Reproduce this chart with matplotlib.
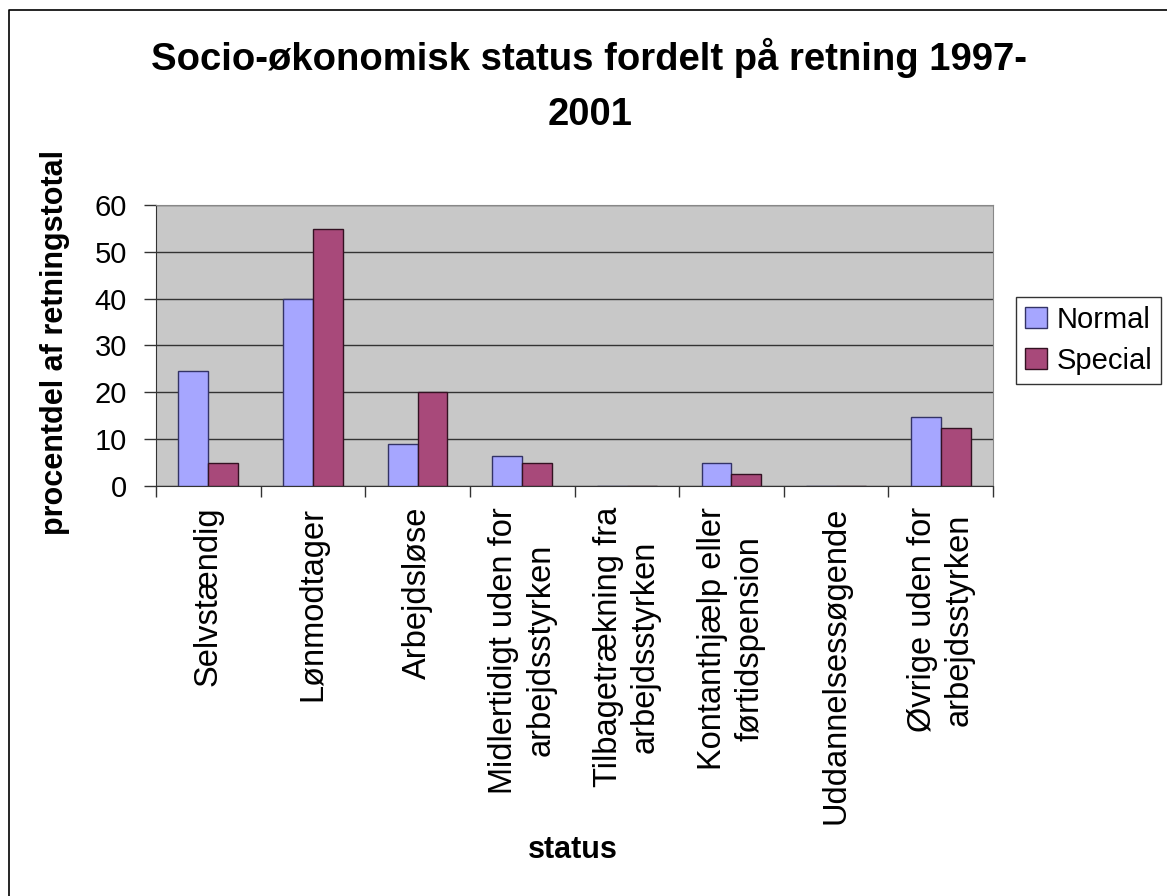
import numpy as np
import matplotlib
matplotlib.use("Agg")
import matplotlib.pyplot as plt
from matplotlib.lines import Line2D

# chart data
categories = [
    "Selvstændig",
    "Lønmodtager",
    "Arbejdsløse",
    "Midlertidigt uden for\narbejdsstyrken",
    "Tilbagetrækning fra\narbejdsstyrken",
    "Kontanthjælp eller\nførtidspension",
    "Uddannelsessøgende",
    "Øvrige uden for\narbejdsstyrken",
]
normal = [24.6, 40.0, 8.9, 6.3, 0, 5.0, 0, 14.8]
special = [5.0, 54.8, 20.0, 5.0, 0, 2.5, 0, 12.3]
y_ticks = [0, 10, 20, 30, 40, 50, 60]

plt.rcParams["font.family"] = ["Liberation Sans", "DejaVu Sans"]

W, H = 1167, 896
fig = plt.figure(figsize=(W / 100, H / 100), dpi=100)
ax = fig.add_axes([156 / W, 410 / H, 837 / W, 281 / H])

# outer chart border (only left and top visible in the reference)
fig.lines.append(Line2D([9 / W, 9 / W, 1], [0, 1 - 10 / H, 1 - 10 / H],
                        transform=fig.transFigure, color="black", linewidth=1.2))

x = np.arange(len(categories))
w = 1 / 3.5
ax.bar(x - w / 2, normal, w, color="#A6A6FF", edgecolor="#333366", linewidth=1, label="Normal", zorder=3)
ax.bar(x + w / 2, special, w, color="#A8497A", edgecolor="#331122", linewidth=1, label="Special", zorder=3)

ax.set_facecolor("#C8C8C8")
ax.set_xlim(-0.5, len(categories) - 0.5)
ax.set_ylim(0, 60)
ax.set_yticks(y_ticks)
ax.yaxis.grid(True, color="#333333", linewidth=1, zorder=1)
ax.set_axisbelow(True)

ax.set_xticks(np.arange(len(categories) + 1) - 0.5)
ax.set_xticklabels([])
ax.set_xticks(x, minor=True)
ax.set_xticklabels(categories, minor=True, rotation=90, ha="center", va="top",
                   multialignment="center", fontsize=23.5, linespacing=1.25)
ax.tick_params(axis="x", which="major", length=8, width=1, color="#333333")
ax.tick_params(axis="x", which="minor", length=0, pad=15)
ax.tick_params(axis="y", length=9, width=1, color="#333333", labelsize=21, pad=12)

for side in ["top", "right"]:
    ax.spines[side].set_color("#888888")
for side in ["left", "bottom"]:
    ax.spines[side].set_color("#333333")

fig.text(589 / W, 1 - 70 / H, "Socio-økonomisk status fordelt på retning 1997-",
         ha="center", va="baseline", fontsize=27.5, fontweight="bold")
fig.text(590 / W, 1 - 125 / H, "2001",
         ha="center", va="baseline", fontsize=27.5, fontweight="bold")
fig.text(55 / W, 1 - 342 / H, "procentdel af retningstotal", rotation=90,
         ha="center", va="center", fontsize=22, fontweight="bold")
fig.text(573 / W, 1 - 850 / H, "status", ha="center", va="center",
         fontsize=22, fontweight="bold")

leg = fig.legend(loc="upper left", bbox_to_anchor=(1016 / W, 1 - 297 / H),
                 fontsize=21, frameon=True, fancybox=False, handlelength=0.75,
                 handleheight=0.75, handletextpad=0.35, borderpad=0.3,
                 labelspacing=0.45, borderaxespad=0)
leg.get_frame().set_edgecolor("black")
leg.get_frame().set_linewidth(1)

fig.savefig("out.png", dpi=100)
